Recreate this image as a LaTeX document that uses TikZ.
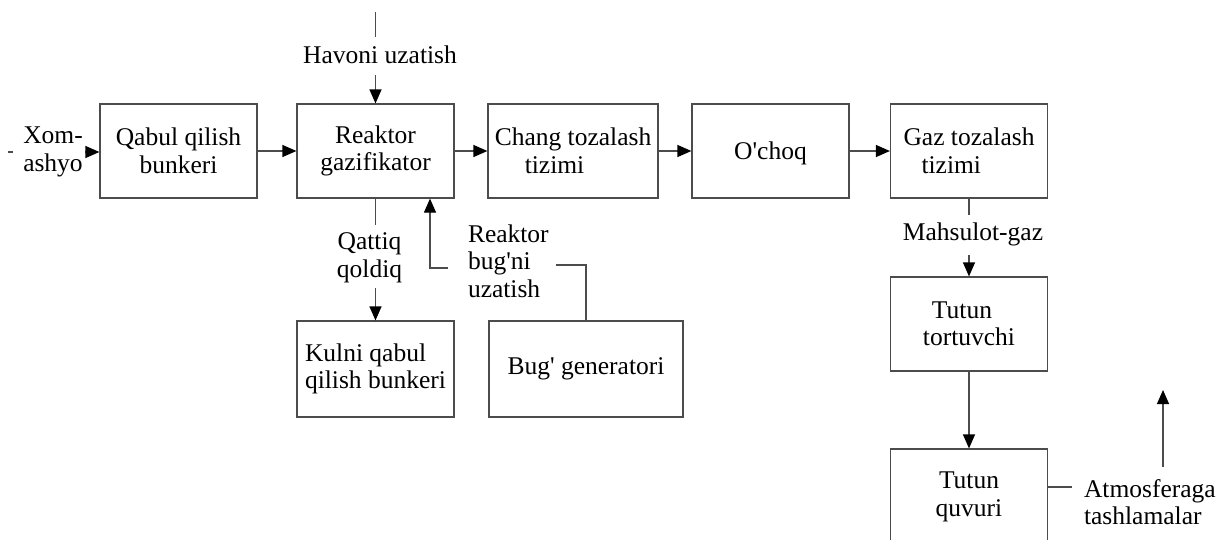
\documentclass[tikz,border=0pt]{standalone}
\usepackage{fontspec}
\setmainfont{Liberation Serif}
\usetikzlibrary{arrows.meta,calc}
\newcommand\apos{\textquotesingle}
\begin{document}
\begin{tikzpicture}[x=1pt,y=-1pt,
  every node/.style={font=\fontsize{25.5}{27.5}\selectfont},
  box/.style={draw=black!70, line width=1.2pt, minimum height=94pt,
    inner sep=2pt, align=center},
  lbl/.style={inner sep=0pt, outer sep=0pt},
  conn/.style={draw=black!70, line width=1.2pt},
  arr/.style={conn, -{Triangle[length=14pt,width=12pt,color=black]}}]
\path[use as bounding box, clip] (0,0) rectangle (1219,539);

% process blocks
\node[box, minimum width=157pt] (qabul) at (178.5,151) {Qabul qilish\\bunkeri};
\node[box, minimum width=157pt] (reaktor) at (375.5,151) {Reaktor\\gazifikator};
\node[box, minimum width=170pt, align=left] (chang) at (573,151) {Chang tozalash\\\hspace*{30pt}tizimi};
\node[box, minimum width=157pt, text depth=0pt] (ochoq) at (770.5,151) {O\apos choq};
\node[box, minimum width=157pt, align=left] (gaz) at (969,151) {Gaz tozalash\\\hspace*{18pt}tizimi};
\node[box, minimum width=157pt, align=left] (tortuvchi) at (969,324) {\hspace*{9pt}Tutun\\tortuvchi};
\node[box, minimum width=157pt, minimum height=96pt] (quvuri) at (969,497) {Tutun\\quvuri};
\node[box, minimum width=157pt, minimum height=96pt, align=left] (kulni) at (375.5,369) {Kulni qabul\\qilish bunkeri};
\node[box, minimum width=194pt, minimum height=96pt] (buggen) at (586,369) {Bug\apos{} generatori};

% stream labels
\node[lbl, align=center] (xom) at (53,152) {Xom-\\ashyo};
\node[lbl] (havoni) at (380,54.3) {Havoni uzatish};
\node[lbl, align=center] (qattiq) at (369.5,258) {Qattiq\\qoldiq};
\node[lbl, align=left, anchor=west] (bugni) at (468,261) {Reaktor\\bug\apos ni\\uzatish};
\node[lbl] (mahsulot) at (973,234) {Mahsulot-gaz};
\node[lbl, align=left, anchor=west] (atmos) at (1084,502) {Atmosferaga\\tashlamalar};

% free ends of the stream lines
\coordinate (xa) at (8,152);
\coordinate (xb) at (13,152);
\coordinate (xc) at (85,152);
\coordinate (ha) at (375.5,12);
\coordinate (hb) at (375.5,37);
\coordinate (hc) at (375.5,75);
\coordinate (qa) at (375.5,225);
\coordinate (qb) at (375.5,288);
\coordinate (ba) at (448,268);
\coordinate (bb) at (430,268);
\coordinate (bc) at (556,265);
\coordinate (ma) at (969,215);
\coordinate (mb) at (969,255);
\coordinate (aa) at (1072,487);
\coordinate (ua) at (1163,467);
\coordinate (ub) at (1163,390);

% raw material in
\draw[conn] (xa) -- (xb);
\draw[arr] (xc) -- (xc -| qabul.west);

% main gas line
\draw[arr] (qabul) -- (reaktor);
\draw[arr] (reaktor) -- (chang);
\draw[arr] (chang) -- (ochoq);
\draw[arr] (ochoq) -- (gaz);

% air supply
\draw[conn] (ha) -- (hb);
\draw[arr] (hc) -- (reaktor.north);

% solid residue
\draw[conn] (reaktor.south) -- (qa);
\draw[arr] (qb) -- (kulni.north);

% steam supply
\draw[arr] (ba) -- (bb) -- (bb |- reaktor.south);
\draw[conn] (bc) -- (bc -| buggen.north) -- (buggen.north);

% product gas to the stack
\draw[conn] (gaz.south) -- (ma);
\draw[arr] (mb) -- (tortuvchi.north);
\draw[arr] (tortuvchi) -- (quvuri);

% release to atmosphere
\draw[conn] (quvuri.east |- aa) -- (aa);
\draw[arr] (ua) -- (ub);
\end{tikzpicture}
\end{document}
